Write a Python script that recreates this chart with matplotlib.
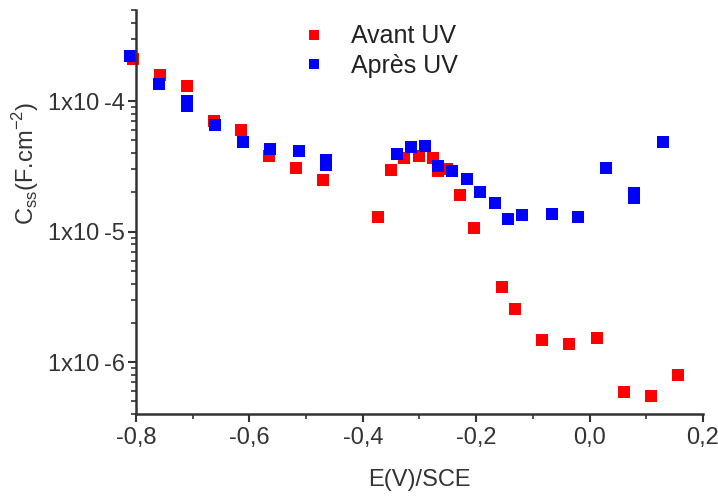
import matplotlib.pyplot as plt
from matplotlib.ticker import FixedLocator, LogLocator, NullFormatter, MultipleLocator

plt.rcParams['font.family'] = ['Liberation Sans', 'DejaVu Sans']

## Data
# Avant UV (red)
e_avant = [-0.805, -0.758, -0.71, -0.662, -0.615, -0.566, -0.518, -0.47,
           -0.373, -0.35, -0.327, -0.30, -0.276, -0.267, -0.251, -0.229, -0.204,
           -0.154, -0.131, -0.084, -0.036, 0.013, 0.061, 0.108, 0.156]
c_avant = [2.1e-4, 1.58e-4, 1.30e-4, 7.0e-5, 6.0e-5, 3.8e-5, 3.07e-5, 2.49e-5,
           1.29e-5, 2.97e-5, 3.66e-5, 3.8e-5, 3.66e-5, 2.91e-5, 3.02e-5, 1.91e-5, 1.07e-5,
           3.78e-6, 2.56e-6, 1.48e-6, 1.38e-6, 1.54e-6, 5.94e-7, 5.53e-7, 8.0e-7]
# Apres UV (blue)
e_apres = [-0.81, -0.759, -0.71, -0.71, -0.661, -0.612, -0.564, -0.513, -0.465, -0.465,
           -0.34, -0.315, -0.29, -0.267, -0.243, -0.216, -0.193, -0.167, -0.144,
           -0.119, -0.066, -0.02, 0.029, 0.079, 0.079, 0.13]
c_apres = [2.21e-4, 1.35e-4, 1.0e-4, 9.1e-5, 6.55e-5, 4.85e-5, 4.3e-5, 4.15e-5, 3.55e-5, 3.25e-5,
           3.93e-5, 4.45e-5, 4.5e-5, 3.18e-5, 2.92e-5, 2.53e-5, 2.0e-5, 1.66e-5, 1.25e-5,
           1.34e-5, 1.36e-5, 1.29e-5, 3.07e-5, 1.96e-5, 1.80e-5, 4.85e-5]

x_ticks = [-0.8, -0.6, -0.4, -0.2, 0.0, 0.2]
x_labels = ['-0,8', '-0,6', '-0,4', '-0,2', '0,0', '0,2']
y_ticks = [1e-6, 1e-5, 1e-4]
y_labels = ['1x10\u2009-6', '1x10\u2009-5', '1x10\u2009-4']

fig = plt.figure(figsize=(7.18, 4.97), dpi=100)
ax = fig.add_axes([0.1894, 0.167, 0.7896, 0.813])

ax.plot(e_avant, c_avant, 's', color='#ff0000', ms=9, mew=0, label='Avant UV', clip_on=False)
ax.plot(e_apres, c_apres, 's', color='#0000ff', ms=9, mew=0, label='Après UV', clip_on=False)

ax.set_yscale('log')
ax.set_xlim(-0.8, 0.2)
ax.set_ylim(4e-7, 5e-4)

ax.xaxis.set_major_locator(FixedLocator(x_ticks))
ax.set_xticklabels(x_labels)
ax.xaxis.set_minor_locator(MultipleLocator(0.1))
ax.yaxis.set_major_locator(FixedLocator(y_ticks))
ax.set_yticklabels(y_labels)
ax.yaxis.set_minor_locator(LogLocator(base=10, subs=range(2, 10)))
ax.yaxis.set_minor_formatter(NullFormatter())

for s in ['top', 'right']:
    ax.spines[s].set_visible(False)
for s in ['left', 'bottom']:
    ax.spines[s].set_linewidth(1.8)
    ax.spines[s].set_color('#333333')

ax.tick_params(which='major', length=6, width=1.5, color='#333333', labelsize=17, labelcolor='#333333')
ax.tick_params(axis='y', which='major', pad=2)
ax.tick_params(which='minor', length=3.5, width=1.2, color='#333333')

ax.set_xlabel('E(V)/SCE', fontsize=17, color='#333333', labelpad=14)
ax.set_ylabel('C$_{\\mathregular{ss}}$(F.cm$^{\\mathregular{-2}}$)', fontsize=17, color='#333333')
ax.yaxis.set_label_coords(-0.168, 0.62)

ax.legend(loc='upper left', bbox_to_anchor=(0.252, 1.02), frameon=False, fontsize=18,
          handlelength=1.0, handletextpad=1.0, labelspacing=0.22, markerscale=0.85,
          labelcolor='#222222')

fig.savefig('out.png', dpi=100)
